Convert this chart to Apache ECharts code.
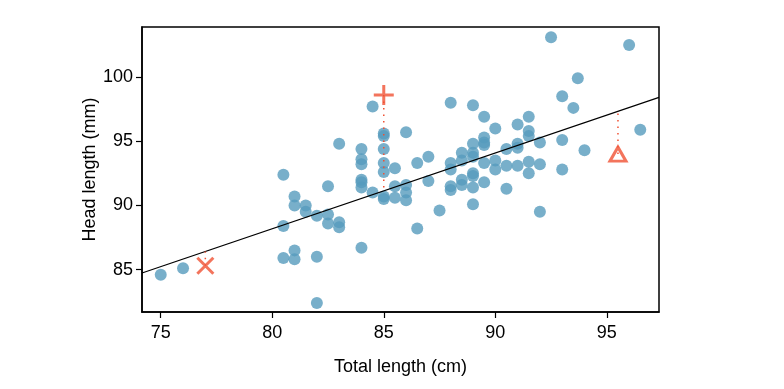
<!DOCTYPE html>
<html><head><meta charset="utf-8">
<script src="https://cdn.jsdelivr.net/npm/echarts@6/dist/echarts.min.js"></script>
<style>html,body{margin:0;padding:0;background:#fff}#c{width:784px;height:389px}</style>
</head><body><div id="c"></div>
<script>
const totalLength = [
  75.0, 76.0,
  80.5, 80.5, 80.5,
  81.0, 81.0, 81.0, 81.0,
  81.5, 81.5,
  82.0, 82.0, 82.0,
  82.5, 82.5, 82.5,
  83.0, 83.0, 83.0,
  84.0, 84.0, 84.0, 84.0, 84.0, 84.0, 84.0,
  84.5, 84.5,
  85.0, 85.0, 85.0, 85.0, 85.0, 85.0, 85.0,
  85.5, 85.5, 85.5,
  86.0, 86.0, 86.0, 86.0,
  86.5, 86.5,
  87.0, 87.0,
  87.5,
  88.0, 88.0, 88.0, 88.0, 88.0,
  88.5, 88.5, 88.5, 88.5,
  89.0, 89.0, 89.0, 89.0, 89.0, 89.0, 89.0, 89.0,
  89.5, 89.5, 89.5, 89.5, 89.5, 89.5,
  90.0, 90.0, 90.0,
  90.5, 90.5, 90.5,
  91.0, 91.0, 91.0, 91.0,
  91.5, 91.5, 91.5, 91.5, 91.5,
  92.0, 92.0, 92.0,
  92.5,
  93.0, 93.0, 93.0,
  93.5, 93.7, 94.0, 96.0, 96.5
];
const headLength = [
  84.6, 85.1,
  92.4, 88.4, 85.9,
  90.7, 90.0, 86.5, 85.8,
  90.0, 89.5,
  89.2, 86.0, 82.4,
  91.5, 89.3, 88.6,
  94.8, 88.7, 88.3,
  94.4, 93.6, 93.2, 92.0, 91.8, 91.4, 86.7,
  97.7, 91.0,
  95.6, 95.4, 94.4, 93.3, 92.6, 90.7, 90.5,
  92.9, 91.5, 90.6,
  95.7, 91.6, 91.0, 90.4,
  93.3, 88.2,
  93.8, 91.9,
  89.6,
  98.0, 93.3, 92.8, 91.5, 91.2,
  94.1, 93.5, 92.0, 91.6,
  97.8, 94.8, 94.1, 93.8, 92.5, 92.3, 91.4, 90.1,
  96.9, 95.3, 94.9, 94.7, 93.3, 91.8,
  96.0, 93.5, 92.8,
  94.4, 93.1, 91.3,
  96.3, 94.8, 94.5, 93.1,
  96.9, 95.8, 95.4, 93.4, 92.5,
  94.9, 93.2, 89.5,
  103.1,
  98.5, 95.1, 92.8,
  97.6, 99.9, 94.3, 102.5, 95.9
];
const specialTotal = [77.0, 85.0, 95.5];
const specialHead = [85.3, 98.6, 94.0];
const fitTotal = [74.16, 97.34];
const fitHead = [84.74, 98.42];
const xTicks = [75, 80, 85, 90, 95];
const yTicks = [85, 90, 95, 100];

const RED = '#F05133';
const FONT = 'Liberation Sans, Arial, sans-serif';
const fitAt = x => fitHead[0] + (fitHead[1] - fitHead[0]) * (x - fitTotal[0]) / (fitTotal[1] - fitTotal[0]);

const points = totalLength.map((t, i) => [t, headLength[i]]);
const symbols = [
  'path://M0,0L14,14M14,0L0,14',
  'path://M10,0L10,20M0,10L20,10',
  'triangle'
];
const sizes = [[16, 16], [20, 20], [16, 14]];

const series = [
  {
    type: 'scatter', data: points, symbolSize: 12, z: 2,
    itemStyle: { color: '#569BBD', opacity: 0.8 }
  },
  {
    type: 'line', data: fitTotal.map((t, i) => [t, fitHead[i]]), symbol: 'none', z: 3,
    lineStyle: { color: '#000', width: 1.2 }
  }
];
specialTotal.forEach((t, i) => {
  series.push({
    type: 'line', data: [[t, specialHead[i]], [t, fitAt(t)]], symbol: 'none', z: 3,
    lineStyle: { color: RED, width: 1.5, type: [1.5, 5] }
  });
  series.push({
    type: 'scatter', data: [[t, specialHead[i]]], symbol: symbols[i], symbolSize: sizes[i], z: 4,
    itemStyle: { color: 'rgba(0,0,0,0)', borderColor: RED, borderWidth: 3 }
  });
});

const chart = echarts.init(document.getElementById('c'));
chart.setOption({
  animation: false,
  backgroundColor: '#fff',
  grid: { left: 142, right: 125, top: 27, bottom: 77, show: true, borderColor: '#000', borderWidth: 1.5 },
  xAxis: {
    type: 'value', min: 74.16, max: 97.34,
    name: 'Total length (cm)', nameLocation: 'middle', nameGap: 46, nameMoveOverlap: false,
    nameTextStyle: { color: '#000', fontSize: 18, fontFamily: FONT },
    axisLine: { show: true, lineStyle: { color: '#000', width: 1.5 } },
    axisTick: { show: true, length: 6, customValues: xTicks, lineStyle: { color: '#000', width: 1.2 } },
    axisLabel: { customValues: xTicks, color: '#000', fontSize: 18, fontFamily: FONT, margin: 12 },
    splitLine: { show: false }
  },
  yAxis: {
    type: 'value', min: 81.7, max: 103.9,
    name: 'Head length (mm)', nameLocation: 'middle', nameGap: 43, nameMoveOverlap: false,
    nameTextStyle: { color: '#000', fontSize: 18, fontFamily: FONT },
    axisLine: { show: true, lineStyle: { color: '#000', width: 1.5 } },
    axisTick: { show: true, length: 6, customValues: yTicks, lineStyle: { color: '#000', width: 1.2 } },
    axisLabel: { customValues: yTicks, color: '#000', fontSize: 18, fontFamily: FONT, margin: 9 },
    splitLine: { show: false }
  },
  series: series
});
</script></body></html>
